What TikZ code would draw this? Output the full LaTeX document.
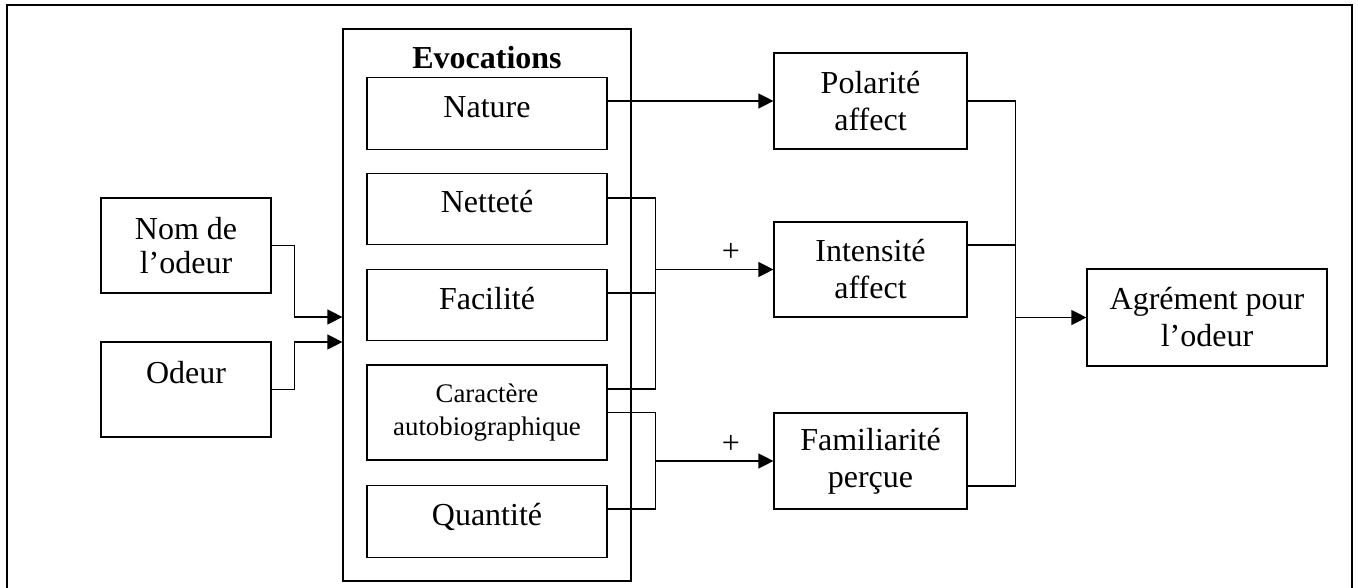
\documentclass[tikz,border=0pt]{standalone}
\usepackage{fontspec}
\setmainfont{Liberation Serif}
\usetikzlibrary{arrows.meta, positioning, calc}

\begin{document}
\begin{tikzpicture}[x=0.5pt, y=-0.5pt, font=\fontsize{16}{18.5}\selectfont,
    lien/.style={line width=0.6pt},
    fleche/.style={line width=0.6pt, -{Triangle[length=7.5pt, width=7.5pt]}},
    cadre/.style={draw, line width=0.6pt, inner sep=0pt, align=center},
    evocbox/.style={cadre, minimum width=120pt, minimum height=35.75pt, text height=11pt, text depth=7pt},
    signe/.style={pos=0.64, yshift=8.5pt, inner sep=0pt}]
    \useasboundingbox (0,0) rectangle (1358,588);
    \draw[lien] (7,600) -- (7,5) -- (1352,5) -- (1352,600);

    % entrees
    \node[cadre, minimum width=85pt, minimum height=47.5pt, font=\fontsize{16}{17}\selectfont] (nom) at (186,245.5) {Nom de\\l’odeur};
    \node[cadre, minimum width=85pt, minimum height=47.5pt, text height=11pt, text depth=17.4pt] (odeur) at (186,389.5) {Odeur};

    % evocations
    \node[cadre, minimum width=144pt, minimum height=276pt] (evoc) at (487,305) {};
    \node[font=\fontsize{16}{18.5}\selectfont\bfseries] (evoctitre) at (487,57.5) {Evocations};
    \foreach \id/\y/\txt in {nature/113.5/Nature, nettete/209/Netteté, facilite/305/Facilité, quantite/521.5/Quantité}
    {
        \node[evocbox] (\id) at (487,\y) {\txt};
    }
    \node[cadre, minimum width=120pt, minimum height=47.5pt, font=\fontsize{13.4}{16.5}\selectfont] (caract) at (487,412.5) {Caractère\\autobiographique};

    % affects
    \node[cadre, minimum width=96.5pt, minimum height=48pt] (polarite) at (870.5,101) {Polarité\\affect};
    \node[cadre, minimum width=96.5pt, minimum height=47.5pt] (intensite) at (870.5,269.5) {Intensité\\affect};
    \node[cadre, minimum width=96.5pt, minimum height=48pt] (familiarite) at (870.5,461) {Familiarité\\perçue};
    \node[cadre, minimum width=120pt, minimum height=48.5pt] (agrement) at (1207,317.5) {Agrément pour\\l’odeur};

    % liens
    \coordinate (entreeA) at ($(evoc.west)+(0,12)$);
    \coordinate (entreeB) at ($(evoc.west)+(0,37)$);
    \draw[fleche] (nom.east) -- ++(23,0) |- (entreeA);
    \draw[fleche] (odeur.east) -- ++(23,0) |- (entreeB);

    \draw[fleche] (nature.east |- polarite.west) -- (polarite.west);

    \draw[lien] ($(nettete.east)+(0,-11)$) -- ++(48,0) coordinate (busB) |- ($(caract.east)+(0,-23.5)$);
    \draw[lien] ($(facilite.east)+(0,-12)$) -- ++(48,0);
    \draw[fleche] (busB |- intensite.west) -- (intensite.west) node[signe] {+};

    \draw[lien] (caract.east) -- ++(48,0) |- ($(quantite.east)+(0,-12.5)$);
    \draw[fleche] (busB |- familiarite.west) -- (familiarite.west) node[signe] {+};

    \draw[lien] (polarite.east) -- ++(48,0) coordinate (busC) |- ($(familiarite.east)+(0,25)$);
    \draw[lien] ($(intensite.east)+(0,-24.5)$) -- ++(48,0);
    \draw[fleche] (busC |- agrement.west) -- (agrement.west);
\end{tikzpicture}
\end{document}
